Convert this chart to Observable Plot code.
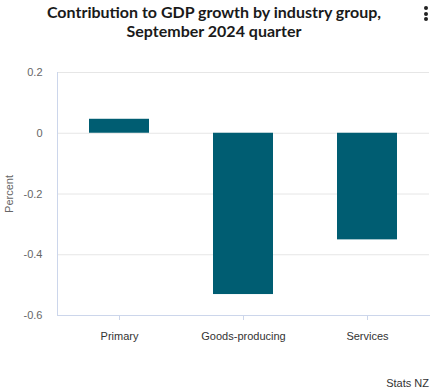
<!DOCTYPE html>
<html><head><meta charset="utf-8">
<script src="https://cdn.jsdelivr.net/npm/d3@7"></script>
<script src="https://cdn.jsdelivr.net/npm/@observablehq/plot@0.6"></script>
<style>
body{margin:0;background:#fff;width:434px;height:392px;overflow:hidden;position:relative;font-family:"Liberation Sans",Arial,sans-serif;}
#title{position:absolute;left:0;top:2px;width:428px;text-align:center;font-family:Lato,"Open Sans",sans-serif;font-weight:700;font-size:16px;line-height:19px;color:#1a1a1a;}
#menu{position:absolute;left:424px;top:6px;width:4px;}
#menu span{display:block;width:4px;height:4px;border-radius:2px;background:#222;margin-bottom:1.5px;}
#chart{position:absolute;left:0;top:50px;}
#caption{position:absolute;right:5px;top:377px;font-size:11px;color:#333;}
</style></head>
<body>
<div id="title">Contribution to GDP growth by industry group,<br>September 2024 quarter</div>
<div id="menu"><span></span><span></span><span></span></div>
<div id="chart"></div>
<div id="caption">Stats NZ</div>
<script>
const categories = ["Primary", "Goods-producing", "Services"];
const values = [0.046, -0.531, -0.351];
const yTicks = [-0.6, -0.4, -0.2, 0, 0.2];
const gridTicks = [-0.4, -0.2, 0, 0.2];

const data = categories.map((c, i) => ({category: c, value: values[i]}));

const chart = Plot.plot({
  width: 434,
  height: 320,
  marginTop: 22,
  marginBottom: 55,
  marginLeft: 57,
  marginRight: 5,
  style: {fontFamily: '"Liberation Sans", Arial, sans-serif', fontSize: "11px", color: "#666", background: "#fff"},
  x: {domain: categories, paddingInner: 0.52, paddingOuter: 0.26},
  y: {domain: [-0.6, 0.2]},
  marks: [
    Plot.gridY(gridTicks, {stroke: "#e6e6e6", strokeOpacity: 1}),
    Plot.frame({anchor: "left", stroke: "#ccd6eb"}),
    Plot.frame({anchor: "bottom", stroke: "#ccd6eb"}),
    Plot.barY(data, {x: "category", y: "value", fill: "#005d72"}),
    Plot.axisY(yTicks, {tickSize: 0, tickPadding: 15, tickFormat: d => String(d), fill: "#666", label: "Percent", labelAnchor: "center", labelArrow: "none", labelOffset: 52, fontSize: 11}),
    Plot.axisX({tickSize: 5, stroke: "#ccd6eb", tickPadding: 12, fill: "#333", label: null, fontSize: 11})
  ]
});
document.getElementById("chart").appendChild(chart);
</script>
</body></html>
